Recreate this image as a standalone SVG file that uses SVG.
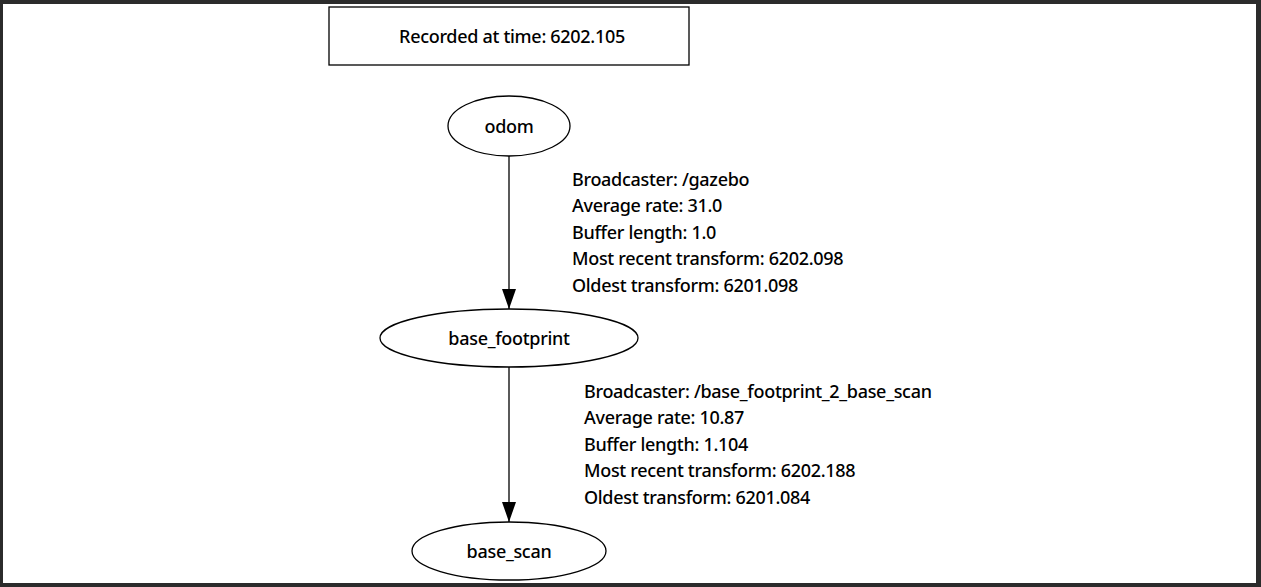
<svg xmlns="http://www.w3.org/2000/svg" width="1261" height="587" viewBox="0 0 1261 587">
<style>
text{font-family:"Noto Sans","Open Sans",sans-serif;font-size:18px;font-weight:500;fill:#000;letter-spacing:-0.3px}
.n{text-anchor:middle}
.s{fill:#fff;stroke:#000;stroke-width:1.3}
.e{stroke:#000;stroke-width:1.3;fill:none}
</style>
<defs>
<marker id="ah" viewBox="0 0 20 14" refX="20" refY="7" markerWidth="20" markerHeight="14" markerUnits="userSpaceOnUse" orient="auto">
<path d="M0,0 L20,7 L0,14 Z" fill="#000"/>
</marker>
</defs>
<rect x="0" y="0" width="1261" height="587" fill="#2b2b2b"/>
<rect x="3" y="4" width="1253" height="579" fill="#fff"/>
<g id="header">
<rect class="s" x="329" y="7" width="360" height="58"/>
<text class="n" x="512" y="43">Recorded at time: 6202.105</text>
</g>
<g id="edges">
<line class="e" x1="509" y1="156" x2="509" y2="309" marker-end="url(#ah)"/>
<line class="e" x1="509" y1="367" x2="509" y2="522" marker-end="url(#ah)"/>
<text x="572" y="186">Broadcaster: /gazebo</text>
<text x="572" y="212">Average rate: 31.0</text>
<text x="572" y="239">Buffer length: 1.0</text>
<text x="572" y="265">Most recent transform: 6202.098</text>
<text x="572" y="292">Oldest transform: 6201.098</text>
<text x="584" y="398">Broadcaster: /base_footprint_2_base_scan</text>
<text x="584" y="424">Average rate: 10.87</text>
<text x="584" y="451">Buffer length: 1.104</text>
<text x="584" y="477">Most recent transform: 6202.188</text>
<text x="584" y="504">Oldest transform: 6201.084</text>
</g>
<g id="odom">
<ellipse class="s" cx="509" cy="126" rx="61" ry="30"/>
<text class="n" x="509" y="133">odom</text>
</g>
<g id="base_footprint">
<ellipse class="s" cx="509" cy="338" rx="129" ry="29"/>
<text class="n" x="509" y="345">base_footprint</text>
</g>
<g id="base_scan">
<ellipse class="s" cx="509" cy="551" rx="97" ry="29"/>
<text class="n" x="509" y="558">base_scan</text>
</g>
</svg>
